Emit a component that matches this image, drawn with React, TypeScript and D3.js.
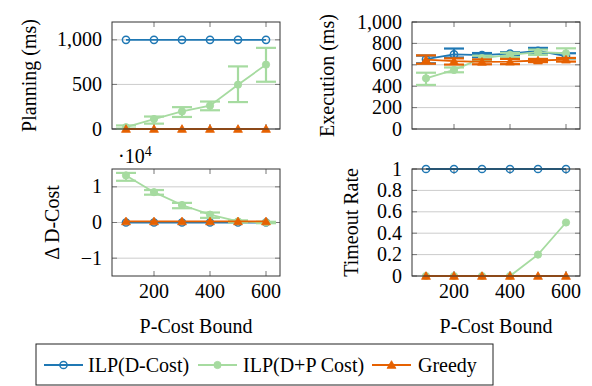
import React from 'react';
import * as d3 from 'd3';

// P-Cost bound values on the x axis
const bounds = [100, 200, 300, 400, 500, 600];
const xTicks = [200, 400, 600];

// Planning (ms)
const planIlpD = [1000, 1000, 1000, 1000, 1000, 1000];
const planIlpDP = [20, 112, 197, 262, 497, 722];
const planIlpDPLo = [5, 60, 135, 210, 302, 530];
const planIlpDPHi = [40, 140, 245, 308, 702, 910];
const planGreedy = [0, 0, 0, 0, 0, 0];

// Execution (ms)
const execIlpD = [652, 697, 690, 705, 730, 682];
const execIlpDLo = [614, 668, 670, 690, 705, 660];
const execIlpDHi = [686, 752, 710, 718, 758, 708];
const execIlpDP = [474, 552, 662, 692, 718, 708];
const execIlpDPLo = [412, 530, 640, 672, 692, 660];
const execIlpDPHi = [526, 575, 685, 712, 742, 754];
const execGreedy = [648, 634, 628, 630, 640, 648];
const execGreedyLo = [610, 602, 605, 606, 625, 630];
const execGreedyHi = [688, 660, 650, 655, 655, 664];

// Δ D-Cost (×10^4)
const dcostIlpD = [0, 0, 0, 0, 0, 0];
const dcostIlpDP = [1.32, 0.85, 0.49, 0.22, 0.03, 0.0];
const dcostIlpDPLo = [1.17, 0.78, 0.4, 0.13, 0.0, -0.02];
const dcostIlpDPHi = [1.39, 0.91, 0.55, 0.28, 0.06, 0.02];
const dcostGreedy = [0.03, 0.03, 0.03, 0.03, 0.03, 0.03];

// Timeout rate
const toIlpD = [1, 1, 1, 1, 1, 1];
const toIlpDP = [0, 0, 0, 0, 0.2, 0.5];
const toGreedy = [0, 0, 0, 0, 0, 0];

const BLUE = '#1f78b4';
const GREEN = '#a6dba0';
const ORANGE = '#e66101';

type Series = {
  values: number[];
  lo?: number[];
  hi?: number[];
  color: string;
  marker: 'circle' | 'dot' | 'tri';
};

type PanelProps = {
  left: number;
  top: number;
  domain: [number, number];
  ticks: number[];
  fmt: (v: number) => string;
  label: string;
  labelX: number;
  showX: boolean;
  series: Series[];
  exponent?: boolean;
};

const W = 168;
const H = 107;

const Marker = ({ kind, x, y, color }: { kind: string; x: number; y: number; color: string }) => {
  if (kind === 'circle')
    return <circle cx={x} cy={y} r={3.6} fill="none" stroke={color} strokeWidth={1.5} />;
  if (kind === 'dot') return <circle cx={x} cy={y} r={3.6} fill={color} stroke={color} />;
  const tri = d3.symbol().type(d3.symbolTriangle).size(34)();
  return <path d={tri || ''} transform={`translate(${x},${y + 0.8})`} fill={color} stroke={color} strokeWidth={0.8} />;
};

const Panel = (p: PanelProps) => {
  const x = d3.scaleLinear().domain([50, 650]).range([p.left, p.left + W]);
  const y = d3.scaleLinear().domain(p.domain).range([p.top + H, p.top]);
  const line = d3
    .line<number>()
    .x((_, i) => x(bounds[i]))
    .y((d) => y(d));
  const cy = p.top + H / 2;
  return (
    <g>
      {p.ticks.map((t) => (
        <g key={'g' + t}>
          <line x1={p.left} x2={p.left + W} y1={y(t)} y2={y(t)} stroke="#cccccc" strokeWidth={1} />
          <line x1={p.left} x2={p.left + 5} y1={y(t)} y2={y(t)} stroke="#777" strokeWidth={1} />
          <line x1={p.left + W - 5} x2={p.left + W} y1={y(t)} y2={y(t)} stroke="#777" strokeWidth={1} />
          <text x={p.left - 10} y={y(t) + 6.5} textAnchor="end">
            {p.fmt(t)}
          </text>
        </g>
      ))}
      {xTicks.map((t) => (
        <g key={'x' + t}>
          <line x1={x(t)} x2={x(t)} y1={p.top} y2={p.top + 5} stroke="#777" strokeWidth={1} />
          <line x1={x(t)} x2={x(t)} y1={p.top + H - 5} y2={p.top + H} stroke="#777" strokeWidth={1} />
          {p.showX && (
            <text x={x(t)} y={p.top + H + 22} textAnchor="middle">
              {t}
            </text>
          )}
        </g>
      ))}
      {p.series.map((s, si) => (
        <g key={'s' + si}>
          {s.lo &&
            s.hi &&
            s.values.map((_, i) => (
              <g key={'e' + i} stroke={s.color} strokeWidth={2.2}>
                <line x1={x(bounds[i])} x2={x(bounds[i])} y1={y(s.lo![i])} y2={y(s.hi![i])} />
                <line x1={x(bounds[i]) - 10} x2={x(bounds[i]) + 10} y1={y(s.lo![i])} y2={y(s.lo![i])} />
                <line x1={x(bounds[i]) - 10} x2={x(bounds[i]) + 10} y1={y(s.hi![i])} y2={y(s.hi![i])} />
              </g>
            ))}
          <path d={line(s.values) || ''} fill="none" stroke={s.color} strokeWidth={1.8} />
          {s.values.map((v, i) => (
            <Marker key={'m' + i} kind={s.marker} x={x(bounds[i])} y={y(v)} color={s.color} />
          ))}
        </g>
      ))}
      <rect x={p.left} y={p.top} width={W} height={H} fill="none" stroke="#333" strokeWidth={1} />
      <text transform={`translate(${p.labelX},${cy}) rotate(-90)`} textAnchor="middle">
        {p.label}
      </text>
      {p.exponent && (
        <text x={p.left + 6} y={p.top - 6}>
          ·10<tspan dy={-7} fontSize={14}>4</tspan>
        </text>
      )}
      {p.showX && (
        <text x={p.left + W / 2} y={333} textAnchor="middle">
          P-Cost Bound
        </text>
      )}
    </g>
  );
};

const legendItems = [
  { name: 'ILP(D-Cost)', color: BLUE, marker: 'circle', lx: 44, tx: 88 },
  { name: 'ILP(D+P Cost)', color: GREEN, marker: 'dot', lx: 198, tx: 243 },
  { name: 'Greedy', color: ORANGE, marker: 'tri', lx: 372, tx: 418 },
];

const App: React.FC = () => {
  const comma = d3.format(',');
  const minus = (v: number) => (v < 0 ? '\u2212' + Math.abs(v) : String(v));
  return (
    <svg
      width={592}
      height={386}
      style={{
        position: 'absolute',
        left: 0,
        top: 0,
        background: '#fff',
        fontFamily: "'Liberation Serif', 'Times New Roman', Times, 'DejaVu Serif', serif",
        fontSize: 20,
      }}
    >
      <Panel
        left={112}
        top={22}
        domain={[0, 1200]}
        ticks={[0, 500, 1000]}
        fmt={(v) => comma(v)}
        label="Planning (ms)"
        labelX={36}
        showX={false}
        series={[
          { values: planIlpD, color: BLUE, marker: 'circle' },
          { values: planIlpDP, lo: planIlpDPLo, hi: planIlpDPHi, color: GREEN, marker: 'dot' },
          { values: planGreedy, color: ORANGE, marker: 'tri' },
        ]}
      />
      <Panel
        left={412}
        top={22}
        domain={[0, 1000]}
        ticks={[0, 200, 400, 600, 800, 1000]}
        fmt={(v) => comma(v)}
        label="Execution (ms)"
        labelX={334}
        showX={false}
        series={[
          { values: execIlpD, lo: execIlpDLo, hi: execIlpDHi, color: BLUE, marker: 'circle' },
          { values: execIlpDP, lo: execIlpDPLo, hi: execIlpDPHi, color: GREEN, marker: 'dot' },
          { values: execGreedy, lo: execGreedyLo, hi: execGreedyHi, color: ORANGE, marker: 'tri' },
        ]}
      />
      <Panel
        left={112}
        top={169}
        domain={[-1.5, 1.5]}
        ticks={[-1, 0, 1]}
        fmt={minus}
        label="Δ D-Cost"
        labelX={59}
        showX={true}
        exponent={true}
        series={[
          { values: dcostIlpD, color: BLUE, marker: 'circle' },
          { values: dcostIlpDP, lo: dcostIlpDPLo, hi: dcostIlpDPHi, color: GREEN, marker: 'dot' },
          { values: dcostGreedy, color: ORANGE, marker: 'tri' },
        ]}
      />
      <Panel
        left={412}
        top={169}
        domain={[0, 1]}
        ticks={[0, 0.2, 0.4, 0.6, 0.8, 1]}
        fmt={(v) => String(v)}
        label="Timeout Rate"
        labelX={358}
        showX={true}
        series={[
          { values: toIlpD, color: BLUE, marker: 'circle' },
          { values: toIlpDP, color: GREEN, marker: 'dot' },
          { values: toGreedy, color: ORANGE, marker: 'tri' },
        ]}
      />
      <rect x={36} y={344} width={457} height={41} fill="none" stroke="#222" strokeWidth={1} />
      {legendItems.map((it) => (
        <g key={it.name}>
          <line x1={it.lx} x2={it.lx + 39} y1={365} y2={365} stroke={it.color} strokeWidth={1.8} />
          <Marker kind={it.marker} x={it.lx + 19.5} y={365} color={it.color} />
          <text x={it.tx} y={372}>
            {it.name}
          </text>
        </g>
      ))}
    </svg>
  );
};

export default App;
